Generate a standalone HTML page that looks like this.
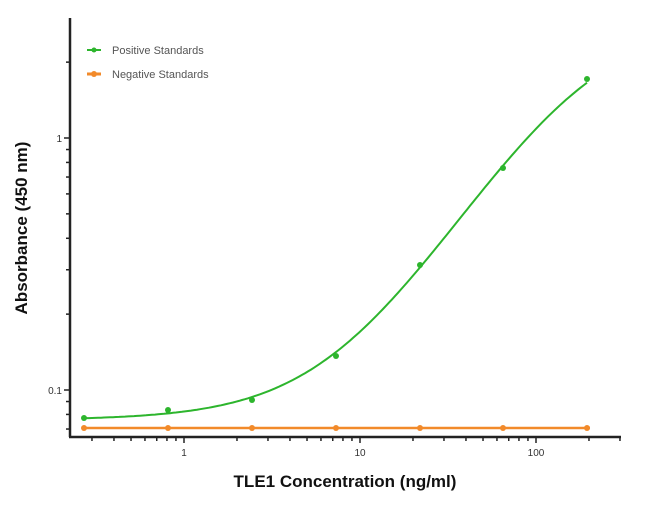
<!DOCTYPE html>
<html><head><meta charset="utf-8"><style>
body{margin:0;background:#fff;width:650px;height:500px;overflow:hidden;font-family:"Liberation Sans",sans-serif}
</style></head><body>
<svg width="650" height="500" xmlns="http://www.w3.org/2000/svg" font-family="Liberation Sans, sans-serif">
<g stroke="#222" stroke-width="2.5" fill="none">
<line x1="70" y1="18" x2="70" y2="437"/>
<line x1="69" y1="437" x2="621" y2="437"/>
</g>
<g id="ticks" stroke="#222" stroke-width="1.5"></g>
<text x="62" y="142" font-size="10" text-anchor="end" fill="#333">1</text>
<text x="62" y="394" font-size="10" text-anchor="end" fill="#333">0.1</text>
<text x="184" y="456" font-size="10" text-anchor="middle" fill="#333">1</text>
<text x="360" y="456" font-size="10" text-anchor="middle" fill="#333">10</text>
<text x="536" y="456" font-size="10" text-anchor="middle" fill="#333">100</text>
<text x="345" y="487" font-size="17" font-weight="bold" text-anchor="middle" fill="#111">TLE1 Concentration (ng/ml)</text>
<text transform="translate(27,228) rotate(-90)" font-size="17" font-weight="bold" text-anchor="middle" fill="#111">Absorbance (450 nm)</text>
<line x1="87" y1="50" x2="101" y2="50" stroke="#2db52d" stroke-width="2"/>
<circle cx="94" cy="50" r="2.5" fill="#2db52d"/>
<text x="112" y="54" font-size="11" fill="#555">Positive Standards</text>
<line x1="87" y1="74" x2="101" y2="74" stroke="#f28a2a" stroke-width="3"/>
<circle cx="94" cy="74" r="3" fill="#f28a2a"/>
<text x="112" y="78" font-size="11" fill="#555">Negative Standards</text>
<line x1="82" y1="428" x2="590" y2="428" stroke="#f28a2a" stroke-width="2.5"/>
<g fill="#f28a2a">
<circle cx="84" cy="428" r="3"/><circle cx="168" cy="428" r="3"/><circle cx="252" cy="428" r="3"/><circle cx="336" cy="428" r="3"/><circle cx="420" cy="428" r="3"/><circle cx="503" cy="428" r="3"/><circle cx="587" cy="428" r="3"/>
</g>
<path id="curve" fill="none" stroke="#2db52d" stroke-width="2"/>
<g fill="#2db52d">
<circle cx="84" cy="418" r="3"/><circle cx="168" cy="410" r="3"/><circle cx="252" cy="400" r="3"/><circle cx="336" cy="356" r="3"/><circle cx="420" cy="265" r="3"/><circle cx="503" cy="168" r="3"/><circle cx="587" cy="79" r="3"/>
</g>
</svg>
<script>
var d="";
for(var x=83;x<=588;x+=3){var c=Math.pow(10,(x-184)/176);var v=3-2.924/(1+Math.pow(c/170,1.2));var y=138-252*Math.log10(v);d+=(d?" L":"M")+x+","+y.toFixed(1);}
document.getElementById("curve").setAttribute("d",d);
var t=document.getElementById("ticks"),s="";
for(var e=-1;e<3;e++)for(var k=1;k<10;k++){var x=184+176*(e+Math.log10(k));if(x<72||x>620)continue;var L=k==1?6:4;s+='<line x1="'+x+'" y1="437" x2="'+x+'" y2="'+(437+L)+'"/>';}
for(var e=-2;e<1;e++)for(var k=1;k<10;k++){var y=138-252*(e+Math.log10(k));if(y<18||y>436)continue;var L=k==1?6:4;s+='<line x1="70" y1="'+y+'" x2="'+(70-L)+'" y2="'+y+'"/>';}
t.innerHTML=s;
</script>
</body></html>
